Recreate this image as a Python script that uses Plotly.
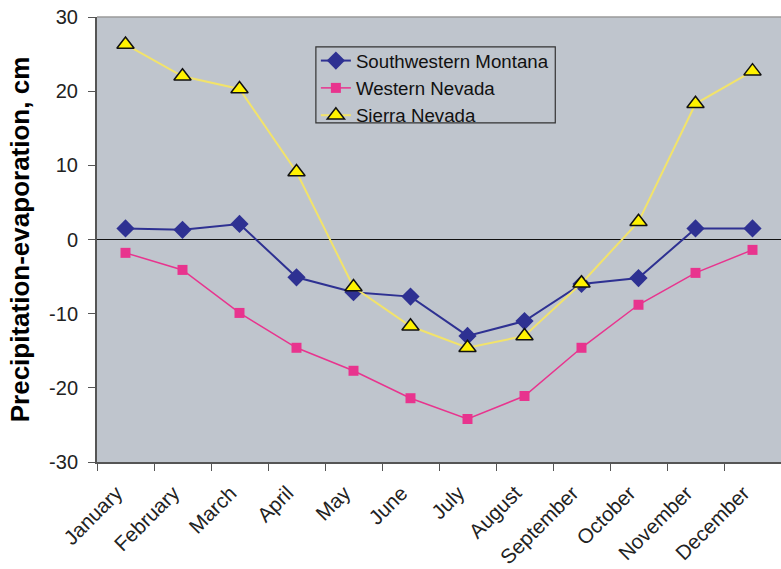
import plotly.graph_objects as go

months = ["January", "February", "March", "April", "May", "June", "July",
          "August", "September", "October", "November", "December"]
montana = [1.5, 1.3, 2.1, -5.1, -7.1, -7.7, -13.0, -11.0, -6.0, -5.2, 1.5, 1.5]
w_nevada = [-1.8, -4.1, -9.9, -14.6, -17.7, -21.4, -24.2, -21.1, -14.6, -8.8, -4.5, -1.4]
sierra = [26.3, 22.0, 20.3, 9.1, -6.4, -11.7, -14.6, -13.0, -5.9, 2.4, 18.3, 22.7]
y_ticks = [-30, -20, -10, 0, 10, 20, 30]
y_tick_text = ["-30", "-20", "-10", "0", "10", "20", "30"]

font_family = "Liberation Sans, Arial, sans-serif"
fig = go.Figure()
fig.add_trace(go.Scatter(
    x=months, y=montana, name="Southwestern Montana", mode="lines+markers",
    line=dict(color="#2E3192", width=2),
    marker=dict(symbol="diamond", size=14, color="#2E3192")))
fig.add_trace(go.Scatter(
    x=months, y=w_nevada, name="Western Nevada", mode="lines+markers",
    line=dict(color="#E8348E", width=1.5),
    marker=dict(symbol="square", size=10, color="#E8348E")))
fig.add_trace(go.Scatter(
    x=months, y=sierra, name="Sierra Nevada", mode="lines+markers",
    line=dict(color="#F2E36A", width=2),
    marker=dict(symbol="triangle-up", size=15, color="#FFF200",
                line=dict(color="#111111", width=1.5))))

fig.update_layout(
    width=781, height=569,
    margin=dict(l=97, r=0, t=17, b=107, autoexpand=False),
    paper_bgcolor="#FFFFFF", plot_bgcolor="#BFC5CD",
    font=dict(family=font_family, color="#333333"),
    showlegend=True,
    legend=dict(x=0.32, y=0.944, xanchor="left", yanchor="top",
                bgcolor="rgba(0,0,0,0)", borderwidth=0,
                font=dict(size=18.7, color="#111111"), tracegroupgap=0,
                itemwidth=30),
    xaxis=dict(
        type="category", range=[-0.5, 11.5], tickangle=-45,
        tickson="boundaries", ticks="outside", ticklen=7, tickcolor="#555555",
        showline=True, linecolor="#555555", linewidth=2,
        showgrid=False, zeroline=False, automargin=False,
        ticklabelstandoff=9, ticklabelshift=-9,
        tickfont=dict(size=20.5, color="#222222")),
    yaxis=dict(
        range=[-30, 30], tickvals=y_ticks, ticktext=y_tick_text,
        ticks="outside", ticklen=7, ticklabelstandoff=6,
        ticklabeloverflow="allow",
        tickcolor="#555555", showline=True, linecolor="#555555", linewidth=2,
        showgrid=False, zeroline=True, zerolinecolor="#111111", zerolinewidth=1,
        tickfont=dict(size=20, color="#222222"), automargin=False,
        title=dict(text="<b>Precipitation-evaporation, cm</b>",
                   font=dict(size=26, color="#000000"), standoff=12)),
)
fig.add_shape(type="line", xref="paper", yref="paper", x0=0, x1=1, y0=1, y1=1,
              line=dict(color="#9A9A9A", width=1.5))
# legend frame
fig.add_shape(type="rect", xref="paper", yref="paper",
              x0=0.320, x1=0.670, y0=0.762, y1=0.933,
              line=dict(color="#333333", width=1.2), layer="above")
fig.write_html("out.html", config={"displayModeBar": False},
               post_script="document.body.style.margin='0';")
